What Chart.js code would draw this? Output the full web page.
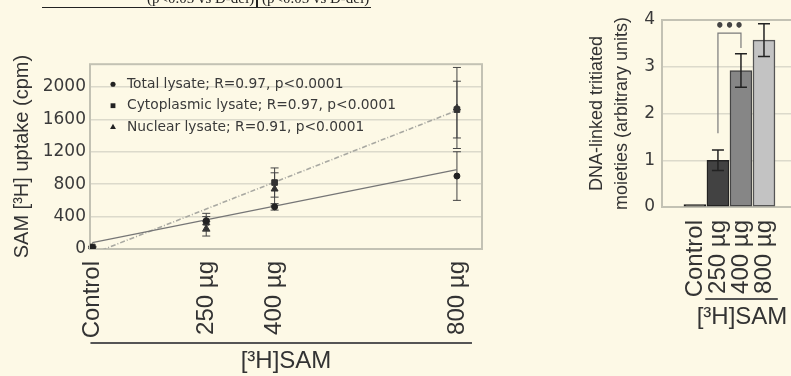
<!DOCTYPE html>
<html>
<head>
<meta charset="utf-8">
<script src="https://cdn.jsdelivr.net/npm/chart.js"></script>
<style>
  html, body { margin: 0; padding: 0; background: #fdf9e6; }
  body { width: 791px; height: 376px; overflow: hidden; position: relative; }
  canvas { position: absolute; }
  #uptake { left: 0; top: 50px; }
  #dna { left: 560px; top: 0; }
  #cut { position: absolute; left: 42px; top: 0; width: 329px; height: 7px; border-bottom: 1.5px solid #222; overflow: hidden; will-change: transform; }
  #cut span { position: absolute; top: -9px; font: 15px "Liberation Serif", serif; line-height: 15px; color: #222; white-space: nowrap; }
  #cutTick { position: absolute; left: 256px; top: 0; width: 1.5px; height: 8px; background: #222; }
</style>
</head>
<body>
<div id="cut"><span style="left:105px">(p&lt;0.05 vs D-del)</span><span style="left:220px">(p&lt;0.05 vs D-del)</span></div>
<div id="cutTick"></div>
<canvas id="uptake" width="500" height="326"></canvas>
<canvas id="dna" width="262" height="340"></canvas>
<script>
// uptake chart data
var doses = [0, 250, 400, 800];
var doseLabels = ['Control', '250 µg', '400 µg', '800 µg'];
var uptakeTicks = [0, 400, 800, 1200, 1600, 2000];
var totalMean = [20, 350, 520, 900];
var totalErr = [10, 50, 40, 300];
var cytoMean = [25, 330, 820, 1720];
var cytoErr = [10, 110, 180, 350];
var nuclearMean = [15, 250, 740, 1740];
var nuclearErr = [10, 90, 200, 500];
var fitDoses = [0, 800];
var totalFit = [80, 980];
var cytoFit = [-60, 1710];
var legendText = [
  'Total lysate; R=0.97, p<0.0001',
  'Cytoplasmic lysate; R=0.97, p<0.0001',
  'Nuclear lysate; R=0.91, p<0.0001'
];

// DNA-linked chart data
var barLabels = ['Control', '250 µg', '400 µg', '800 µg'];
var dnaValues = [0.05, 1.0, 2.92, 3.57];
var dnaErr = [0, 0.22, 0.36, 0.35];

var barColors = ['#262626', '#424242', '#868686', '#c3c3c3'];
var barEdges = ['#1a1a1a', '#222222', '#444444', '#555555'];

Chart.defaults.font.family = '"DejaVu Sans", Verdana, sans-serif';
Chart.defaults.color = '#333';

function points(xs, ys) {
  return xs.map(function (x, i) { return {x: x, y: ys[i]}; });
}

// draws vertical error bars from dataset.errors
var errorBars = {
  id: 'errorBars',
  draw: function (chart, opts) {
    var ctx = chart.ctx, xs = chart.scales.x, ys = chart.scales.y;
    chart.data.datasets.forEach(function (ds) {
      if (!ds.errors) return;
      ctx.save();
      ctx.strokeStyle = opts.color;
      ctx.lineWidth = opts.width;
      ds.data.forEach(function (p, i) {
        var e = ds.errors[i];
        if (!e) return;
        var x = xs.getPixelForValue(p.x);
        var top = ys.getPixelForValue(p.y + e);
        var bot = ys.getPixelForValue(p.y - e);
        var w = opts.cap / 2;
        ctx.beginPath();
        ctx.moveTo(x, top); ctx.lineTo(x, bot);
        ctx.moveTo(x - w, top); ctx.lineTo(x + w, top);
        ctx.moveTo(x - w, bot); ctx.lineTo(x + w, bot);
        ctx.stroke();
      });
      ctx.restore();
    });
  },
  beforeDatasetsDraw: function (chart, args, opts) { if (opts.behind) this.draw(chart, opts); },
  afterDatasetsDraw: function (chart, args, opts) { if (!opts.behind) this.draw(chart, opts); }
};

// box round the plot area
var frame = {
  id: 'frame',
  beforeDatasetsDraw: function (chart, args, opts) {
    var a = chart.chartArea, ctx = chart.ctx;
    ctx.save();
    ctx.strokeStyle = opts.color;
    ctx.lineWidth = opts.width;
    ctx.strokeRect(a.left, a.top, a.right - a.left, a.bottom - a.top);
    ctx.restore();
  }
};

// rule above the [3H]SAM title
var samRule = {
  id: 'samRule',
  afterDraw: function (chart, args, opts) {
    var xs = chart.scales.x, ctx = chart.ctx;
    var y = chart.height - opts.lift;
    ctx.save();
    ctx.strokeStyle = '#555';
    ctx.lineWidth = 2;
    ctx.beginPath();
    ctx.moveTo(xs.getPixelForValue(opts.from), y);
    ctx.lineTo(xs.getPixelForValue(opts.to), y);
    ctx.stroke();
    ctx.restore();
  }
};

function marker(ctx, style, x, y, r) {
  ctx.beginPath();
  if (style === 'rect') {
    var s = r * Math.SQRT1_2;
    ctx.rect(x - s, y - s, 2 * s, 2 * s);
  } else if (style === 'triangle') {
    ctx.moveTo(x, y - r);
    ctx.lineTo(x + r * 0.87, y + r * 0.5);
    ctx.lineTo(x - r * 0.87, y + r * 0.5);
    ctx.closePath();
  } else {
    ctx.arc(x, y, r, 0, Math.PI * 2);
  }
  ctx.fill();
}

// legend inside the plot area
var insideLegend = {
  id: 'insideLegend',
  afterDraw: function (chart, args, opts) {
    var a = chart.chartArea, ctx = chart.ctx;
    ctx.save();
    ctx.font = opts.font;
    ctx.textBaseline = 'middle';
    chart.data.datasets.forEach(function (ds, i) {
      if (!ds.errors) return;
      var y = a.top + opts.top + i * opts.gap;
      var x = a.left + opts.left;
      ctx.fillStyle = '#222';
      marker(ctx, ds.pointStyle, x, y, ds.pointRadius * 0.85);
      ctx.fillStyle = '#3a3a3a';
      ctx.fillText(ds.label, x + 14, y);
    });
    ctx.restore();
  }
};

// significance bracket between two bars
var sigBracket = {
  id: 'sigBracket',
  afterDatasetsDraw: function (chart, args, o) {
    var xs = chart.scales.x, ys = chart.scales.y, ctx = chart.ctx;
    var x1 = xs.getPixelForValue(o.from), x2 = xs.getPixelForValue(o.to);
    ctx.save();
    ctx.strokeStyle = '#7a7a7a';
    ctx.lineWidth = 1.2;
    ctx.beginPath();
    ctx.moveTo(x1, ys.getPixelForValue(o.leftFoot));
    ctx.lineTo(x1, ys.getPixelForValue(o.top));
    ctx.lineTo(x2, ys.getPixelForValue(o.top));
    ctx.lineTo(x2, ys.getPixelForValue(o.rightFoot));
    ctx.stroke();
    ctx.fillStyle = '#444';
    ctx.font = 'bold 15px "DejaVu Sans"';
    ctx.textAlign = 'center';
    ctx.textBaseline = 'middle';
    ctx.fillText(o.text, (x1 + x2) / 2, ys.getPixelForValue(o.label));
    ctx.restore();
  }
};

// uptake chart
new Chart(document.getElementById('uptake'), {
  type: 'scatter',
  data: {
    datasets: [
      {label: legendText[0], data: points(doses, totalMean), errors: totalErr,
       pointStyle: 'circle', pointRadius: 3, backgroundColor: '#222', borderColor: '#222'},
      {label: legendText[1], data: points(doses, cytoMean), errors: cytoErr,
       pointStyle: 'rect', pointRadius: 4, backgroundColor: '#333', borderColor: '#333'},
      {label: legendText[2], data: points(doses, nuclearMean), errors: nuclearErr,
       pointStyle: 'triangle', pointRadius: 4, backgroundColor: '#333', borderColor: '#333'},
      {label: 'Total fit', data: points(fitDoses, totalFit), showLine: true,
       pointRadius: 0, borderColor: '#767676', borderWidth: 1.3},
      {label: 'Cytoplasmic fit', data: points(fitDoses, cytoFit), showLine: true,
       pointRadius: 0, borderColor: '#a9a9a2', borderWidth: 1.6, borderDash: [5, 2, 1, 2]}
    ]
  },
  options: {
    responsive: false,
    animation: false,
    events: [],
    layout: {padding: {top: 12, right: 18, left: 0, bottom: 0}},
    scales: {
      x: {
        type: 'linear', min: -5, max: 855,
        afterBuildTicks: function (scale) {
          scale.ticks = doses.map(function (d) { return {value: d}; });
        },
        afterFit: function (scale) { scale.height = 127; },
        grid: {display: false},
        border: {display: false},
        ticks: {
          autoSkip: false, minRotation: 90, maxRotation: 90, padding: 4,
          color: '#333',
          font: {family: '"Liberation Sans", Arial, sans-serif', size: 24},
          callback: function (v, i) { return doseLabels[i]; }
        },
        title: {
          display: true, text: '[³H]SAM', color: '#333',
          font: {family: '"Liberation Sans", Arial, sans-serif', size: 24},
          padding: {top: 0, bottom: 0}
        }
      },
      y: {
        min: 0, max: 2280,
        afterBuildTicks: function (scale) {
          scale.ticks = uptakeTicks.map(function (v) { return {value: v}; });
        },
        afterFit: function (scale) { scale.width = 90; },
        grid: {color: '#dcdacb', lineWidth: 1.5, drawTicks: false},
        border: {display: false},
        ticks: {
          padding: 4, color: '#3a3a3a', font: {size: 17},
          callback: function (v) { return String(v); }
        },
        title: {
          display: true, text: 'SAM [³H] uptake (cpm)', color: '#333',
          font: {family: '"Liberation Sans", Arial, sans-serif', size: 20},
          padding: {top: 10, bottom: 0}
        }
      }
    },
    plugins: {
      legend: {display: false},
      tooltip: {enabled: false},
      errorBars: {behind: true, color: '#444', width: 1, cap: 8},
      frame: {color: '#c3c2b4', width: 2},
      samRule: {from: -4, to: 833, lift: 33},
      insideLegend: {font: '13.8px "DejaVu Sans"', top: 20, gap: 21.5, left: 23}
    }
  },
  plugins: [errorBars, frame, samRule, insideLegend]
});

// DNA-linked chart
var barIdx = barLabels.map(function (l, i) { return i; });
new Chart(document.getElementById('dna'), {
  type: 'bar',
  data: {
    datasets: [{
      label: 'DNA-linked tritiated moieties',
      data: points(barIdx, dnaValues),
      errors: dnaErr,
      backgroundColor: barColors,
      borderColor: barEdges,
      borderWidth: 1.5,
      borderSkipped: false,
      barThickness: 22
    }]
  },
  options: {
    responsive: false,
    animation: false,
    events: [],
    layout: {padding: {top: 20, right: 0, left: 0, bottom: 0}},
    scales: {
      x: {
        type: 'linear', min: -1.43, max: 5.52, offset: false,
        afterBuildTicks: function (scale) {
          scale.ticks = barIdx.map(function (i) { return {value: i}; });
        },
        afterFit: function (scale) { scale.height = 133; },
        grid: {display: false},
        border: {display: false},
        ticks: {
          autoSkip: false, minRotation: 90, maxRotation: 90, padding: 5,
          color: '#333',
          font: {family: '"Liberation Sans", Arial, sans-serif', size: 24},
          callback: function (v, i) { return barLabels[i]; }
        },
        title: {
          display: true, text: '[³H]SAM', color: '#333',
          font: {family: '"Liberation Sans", Arial, sans-serif', size: 24},
          padding: {top: 0, bottom: 8}
        }
      },
      y: {
        min: 0, max: 4,
        afterFit: function (scale) { scale.width = 102; },
        grid: {color: '#dcdacb', lineWidth: 1.5, drawTicks: false},
        border: {display: false},
        ticks: {stepSize: 1, padding: 7, color: '#3a3a3a', font: {size: 17}},
        title: {
          display: true,
          text: ['DNA-linked tritiated', 'moieties (arbitrary units)'],
          color: '#333',
          font: {family: '"Liberation Sans", Arial, sans-serif', size: 18, lineHeight: '25px'},
          padding: {top: 25, bottom: 0}
        }
      }
    },
    plugins: {
      legend: {display: false},
      tooltip: {enabled: false},
      errorBars: {behind: false, color: '#222', width: 1.5, cap: 12},
      frame: {color: '#c3c2b4', width: 2},
      samRule: {from: 0.45, to: 3.6, lift: 41},
      sigBracket: {from: 1, to: 2, leftFoot: 1.58, top: 3.72, rightFoot: 3.4, label: 3.84, text: '•••'}
    }
  },
  plugins: [errorBars, frame, samRule, sigBracket]
});
</script>
</body>
</html>
